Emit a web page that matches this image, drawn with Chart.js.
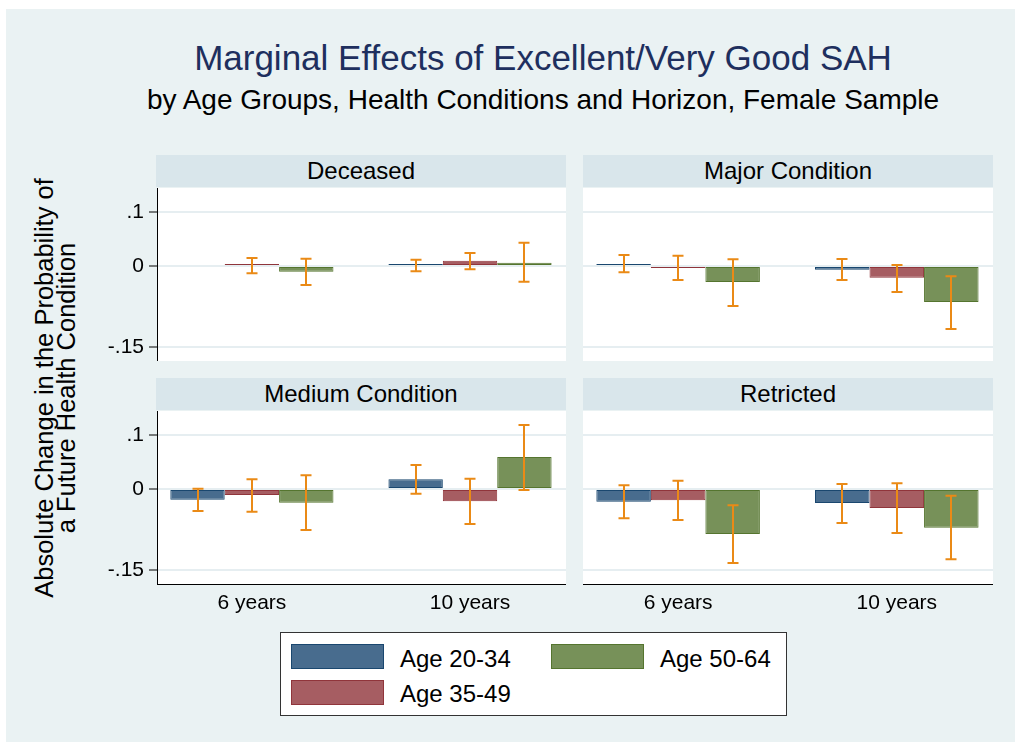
<!DOCTYPE html>
<html>
<head>
<meta charset="utf-8">
<script src="https://cdn.jsdelivr.net/npm/chart.js@4/dist/chart.umd.min.js"></script>
<style>
  html, body { margin: 0; padding: 0; background: #ffffff; }
  body { width: 1015px; height: 744px; position: relative; overflow: hidden;
         font-family: "Liberation Sans", Arial, sans-serif; }
  #bg { position: absolute; left: 6px; top: 9px; width: 1009px; height: 733px; background: #eaf2f3; }
  .abs { position: absolute; }
  .title { left: 43px; width: 1000px; text-align: center; white-space: nowrap; }
  .hdr { position: absolute; background: #d9e6eb; height: 32px; display: flex;
         align-items: center; justify-content: center; font-size: 24px; color: #000; }
  canvas { position: absolute; }
  #ytitle { position: absolute; left: 55px; top: 388px; width: 500px; text-align: center;
            font-size: 25.5px; line-height: 22px; color: #000; white-space: nowrap;
            transform: translate(-50%, -50%) rotate(-90deg); }
  #legend { position: absolute; left: 280px; top: 632px; width: 505px; height: 82px;
            background: #fff; border: 1px solid #333; }
  .sw { position: absolute; width: 93px; height: 25px; box-sizing: border-box; border: 1px solid; }
  .lt { position: absolute; font-size: 24px; line-height: 24px; color: #000; white-space: nowrap; }
</style>
</head>
<body>
<div id="bg"></div>
<div class="abs title" id="t1" style="top:40px;font-size:35px;line-height:35px;color:#1e2f5e;"></div>
<div class="abs title" id="t2" style="top:86px;font-size:28px;line-height:28px;color:#000;"></div>

<div class="hdr" id="h0" style="left:156px;top:155px;width:410px;"></div>
<div class="hdr" id="h1" style="left:583px;top:155px;width:410px;"></div>
<div class="hdr" id="h2" style="left:156px;top:378px;width:410px;"></div>
<div class="hdr" id="h3" style="left:583px;top:378px;width:410px;"></div>

<canvas id="c0" width="486" height="173" style="left:80px;top:188px;"></canvas>
<canvas id="c1" width="410" height="173" style="left:583px;top:188px;"></canvas>
<canvas id="c2" width="486" height="213" style="left:80px;top:411px;"></canvas>
<canvas id="c3" width="410" height="213" style="left:583px;top:411px;"></canvas>

<div id="ytitle"></div>

<div id="legend">
  <div class="sw" id="sw0" style="left:10px;top:11px;"></div>
  <div class="lt" id="lt0" style="left:119px;top:14px;"></div>
  <div class="sw" id="sw1" style="left:10px;top:47px;"></div>
  <div class="lt" id="lt1" style="left:119px;top:49px;"></div>
  <div class="sw" id="sw2" style="left:270px;top:11px;"></div>
  <div class="lt" id="lt2" style="left:379px;top:14px;"></div>
</div>

<script>
// ---------- data ----------
const titleText = 'Marginal Effects of Excellent/Very Good SAH';
const subtitleText = 'by Age Groups, Health Conditions and Horizon, Female Sample';
const yTitleLines = ['Absolute Change in the Probability of', 'a Future Health Condition'];
const categories = ['6 years', '10 years'];
const seriesNames = ['Age 20-34', 'Age 35-49', 'Age 50-64'];
const panelTitles = ['Deceased', 'Major Condition', 'Medium Condition', 'Retricted'];
const yTickValues = [-0.15, 0, 0.1];
const yTickLabels = ['-.15', '0', '.1'];

// estimates per series [6 years, 10 years]
const deceasedEst = [[null, 0.0008], [0.0008, 0.0099], [-0.0105, 0.0062]];
const deceasedLo  = [[null, -0.0099], [-0.0136, -0.0060], [-0.0350, -0.0290]];
const deceasedHi  = [[null, 0.0117], [0.0148, 0.0240], [0.0136, 0.0430]];

const majorEst = [[0.0037, -0.0068], [-0.0025, -0.0216], [-0.0296, -0.0667]];
const majorLo  = [[-0.0117, -0.0260], [-0.0260, -0.0480], [-0.0740, -0.1167]];
const majorHi  = [[0.0204, 0.0130], [0.0190, 0.0019], [0.0123, -0.0190]];

const mediumEst = [[-0.0198, 0.0179], [-0.0111, -0.0228], [-0.0253, 0.0593]];
const mediumLo  = [[-0.0407, -0.0086], [-0.0420, -0.0648], [-0.0759, -0.0019]];
const mediumHi  = [[0.0006, 0.0444], [0.0179, 0.0191], [0.0253, 0.1185]];

const restrictedEst = [[-0.0235, -0.0259], [-0.0210, -0.0352], [-0.0833, -0.0716]];
const restrictedLo  = [[-0.0543, -0.0630], [-0.0574, -0.0815], [-0.1370, -0.1302]];
const restrictedHi  = [[0.0068, 0.0093], [0.0154, 0.0105], [-0.0302, -0.0123]];

// ---------- styles ----------
const fillColors = ['#486c8e', '#a65d62', '#779159'];
const lineColors = ['#1a476f', '#90353b', '#55752f'];
const ciColor = '#ea8a16';
const FONT = '"Liberation Sans", Arial, sans-serif';

document.getElementById('t1').textContent = titleText;
document.getElementById('t2').textContent = subtitleText;
document.getElementById('ytitle').innerHTML = yTitleLines.join('<br>');
panelTitles.forEach((t, i) => document.getElementById('h' + i).textContent = t);
[0, 1, 2].forEach(i => {
  const sw = document.getElementById('sw' + i);
  sw.style.background = fillColors[i];
  sw.style.borderColor = lineColors[i];
  document.getElementById('lt' + i).textContent = seriesNames[i];
});

const plotBgPlugin = {
  id: 'plotbg',
  beforeDraw(chart) {
    const a = chart.chartArea;
    const ctx = chart.ctx;
    ctx.save();
    ctx.fillStyle = '#ffffff';
    ctx.fillRect(a.left, a.top, a.right - a.left, a.bottom - a.top);
    ctx.restore();
  }
};

function errorBarPlugin(lo, hi) {
  return {
    id: 'errbars',
    afterDatasetsDraw(chart) {
      const ctx = chart.ctx;
      const ys = chart.scales.y;
      ctx.save();
      ctx.strokeStyle = ciColor;
      ctx.lineWidth = 2;
      chart.data.datasets.forEach((ds, di) => {
        const meta = chart.getDatasetMeta(di);
        meta.data.forEach((el, j) => {
          if (lo[di][j] === null || hi[di][j] === null) return;
          const x = Math.round(el.x);
          const y1 = ys.getPixelForValue(lo[di][j]);
          const y2 = ys.getPixelForValue(hi[di][j]);
          const cw = 5.5;
          ctx.beginPath();
          ctx.moveTo(x, y1); ctx.lineTo(x, y2);
          ctx.moveTo(x - cw, y1); ctx.lineTo(x + cw, y1);
          ctx.moveTo(x - cw, y2); ctx.lineTo(x + cw, y2);
          ctx.stroke();
        });
      });
      ctx.restore();
    }
  };
}

function makePanel(id, est, lo, hi, showY, showX) {
  const datasets = seriesNames.map((name, i) => ({
    label: name,
    data: categories.map((c, j) => ({ x: j + 1, y: est[i][j] })),
    backgroundColor: fillColors[i],
    borderColor: lineColors[i],
    borderWidth: 1,
    borderSkipped: false,
    minBarLength: 2,
    categoryPercentage: 0.748,
    barPercentage: 1.0
  }));
  new Chart(document.getElementById(id), {
    type: 'bar',
    data: { datasets },
    options: {
      responsive: false,
      animation: false,
      devicePixelRatio: 1,
      layout: { padding: 0 },
      plugins: { legend: { display: false }, tooltip: { enabled: false } },
      scales: {
        x: {
          type: 'linear',
          offset: false,
          bounds: 'data',
          min: 0.565,
          max: 2.44,
          display: showX,
          grid: { display: false, offset: false },
          border: { display: true, color: '#000', width: 1 },
          afterBuildTicks: s => { s.ticks = categories.map((c, j) => ({ value: j + 1 })); },
          afterFit: s => {
            s.height = showX ? 40 : 0;
            s.paddingLeft = 0; s.paddingRight = 0; s.paddingTop = 0; s.paddingBottom = 0;
          },
          ticks: {
            padding: -1,
            color: '#000',
            font: { family: FONT, size: 21 },
            maxRotation: 0,
            autoSkip: false,
            callback: (v, idx) => categories[idx]
          }
        },
        y: {
          type: 'linear',
          min: -0.176,
          max: 0.1445,
          afterBuildTicks: s => { s.ticks = yTickValues.map(v => ({ value: v })); },
          afterFit: s => {
            s.width = showY ? 77 : 0;
            s.paddingLeft = 0; s.paddingRight = 0; s.paddingTop = 0; s.paddingBottom = 0;
          },
          grid: {
            color: '#e6eef1',
            lineWidth: 2,
            drawTicks: showY,
            tickLength: 8,
            tickColor: '#000',
            tickWidth: 1
          },
          border: { display: showY, color: '#000', width: 1 },
          ticks: {
            display: showY,
            padding: 5,
            color: '#000',
            font: { family: FONT, size: 21 },
            callback: (v, idx) => yTickLabels[idx]
          }
        }
      }
    },
    plugins: [plotBgPlugin, errorBarPlugin(lo, hi)]
  });
}

makePanel('c0', deceasedEst, deceasedLo, deceasedHi, true, false);
makePanel('c1', majorEst, majorLo, majorHi, false, false);
makePanel('c2', mediumEst, mediumLo, mediumHi, true, true);
makePanel('c3', restrictedEst, restrictedLo, restrictedHi, false, true);
</script>
</body>
</html>
